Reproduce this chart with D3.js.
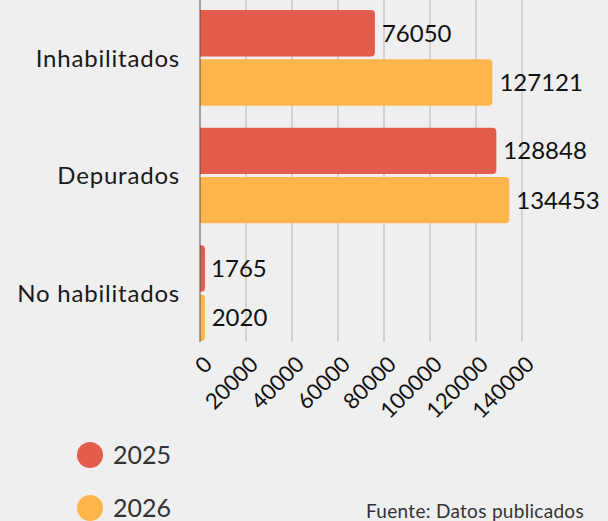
<!DOCTYPE html>
<html>
<head>
<meta charset="utf-8">
<script src="https://cdn.jsdelivr.net/npm/d3@7"></script>
<style>
  body { margin: 0; background: #efefef; overflow: hidden; }
  svg { display: block; font-family: "Lato", "Noto Sans", sans-serif; }
</style>
</head>
<body>
<svg id="chart" width="608" height="521"></svg>
<script>
const categories = ['Inhabilitados', 'Depurados', 'No habilitados'];
const seriesNames = ['2025', '2026'];
const values2025 = [76050, 128848, 1765];
const values2026 = [127121, 134453, 2020];
const tickValues = [0, 20000, 40000, 60000, 80000, 100000, 120000, 140000];
const colors = ['#e45c4c', '#fdb64b'];

const svg = d3.select('#chart');

const x = d3.scaleLinear().domain([0, 140000]).range([200, 522]);
const y = d3.scaleBand().domain(categories).range([10, 341]).paddingInner(0.186).paddingOuter(0);
const y1 = d3.scaleBand().domain(seriesNames).range([0, y.bandwidth()]).paddingInner(0.06);

// grid
svg.append('g')
  .selectAll('line')
  .data(tickValues.slice(1))
  .enter()
  .append('line')
  .attr('x1', d => x(d)).attr('x2', d => x(d))
  .attr('y1', 0).attr('y2', 342)
  .attr('stroke', '#c8c8c8')
  .attr('stroke-width', 1.5);

const rows = categories.map((c, i) => ({ cat: c, vals: [values2025[i], values2026[i]] }));

const group = svg.append('g')
  .selectAll('g')
  .data(rows)
  .enter()
  .append('g')
  .attr('transform', d => `translate(0,${y(d.cat)})`);

const r = 4;
group.selectAll('path')
  .data(d => d.vals.map((v, j) => ({ key: seriesNames[j], v, j })))
  .enter()
  .append('path')
  .attr('fill', d => colors[d.j])
  .attr('d', d => {
    const x0 = x(0), x1 = Math.max(x(d.v), x0 + r + 1);
    const t = y1(d.key), b = t + y1.bandwidth();
    return `M${x0},${t}H${x1 - r}Q${x1},${t} ${x1},${t + r}V${b - r}Q${x1},${b} ${x1 - r},${b}H${x0}Z`;
  });

group.selectAll('text.val')
  .data(d => d.vals.map((v, j) => ({ key: seriesNames[j], v, j })))
  .enter()
  .append('text')
  .attr('class', 'val')
  .attr('x', d => x(d.v) + 7)
  .attr('y', d => y1(d.key) + y1.bandwidth() / 2)
  .attr('dy', '0.36em')
  .style('font-size', '24px')
  .style('fill', '#111')
  .text(d => d.v);

// y axis
svg.append('line')
  .attr('x1', x(0)).attr('x2', x(0))
  .attr('y1', 0).attr('y2', 342)
  .attr('stroke', '#555').attr('stroke-width', 1);

svg.append('g')
  .selectAll('text')
  .data(categories)
  .enter()
  .append('text')
  .attr('x', 180)
  .attr('y', d => y(d) + y.bandwidth() / 2)
  .attr('dy', '0.36em')
  .attr('text-anchor', 'end')
  .style('font-size', '24px')
  .style('letter-spacing', '0.8px')
  .style('fill', '#1a1a1a')
  .text(d => d);

// x tick labels
svg.append('g')
  .selectAll('text')
  .data(tickValues)
  .enter()
  .append('text')
  .attr('transform', d => `translate(${x(d) + 8},${360}) rotate(-45)`)
  .attr('text-anchor', 'end')
  .attr('dy', '0.36em')
  .style('font-size', '22px')
  .style('fill', '#111')
  .text(d => d);

// legend
const legend = svg.append('g')
  .selectAll('g')
  .data(seriesNames)
  .enter()
  .append('g')
  .attr('transform', (d, i) => `translate(90,${455 + i * 53})`);

legend.append('circle').attr('r', 13).attr('fill', (d, i) => colors[i]);
legend.append('text')
  .attr('x', 23)
  .attr('dy', '0.36em')
  .style('font-size', '25px')
  .style('fill', '#333')
  .text(d => d);

svg.append('text')
  .attr('x', 366)
  .attr('y', 518)
  .style('font-size', '19px')
  .style('letter-spacing', '0.3px')
  .style('fill', '#333')
  .text('Fuente: Datos publicados');
</script>
</body>
</html>
